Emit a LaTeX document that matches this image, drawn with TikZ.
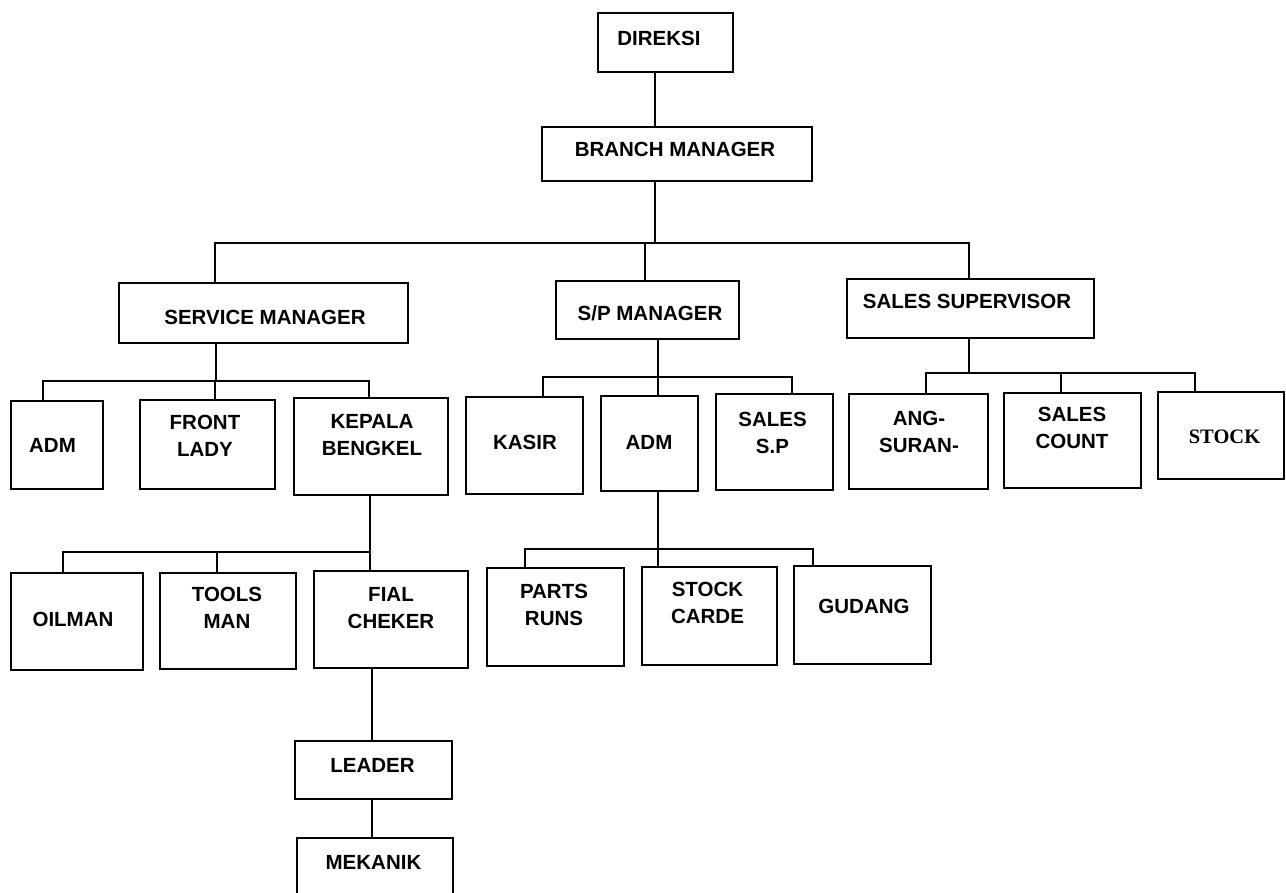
\documentclass[tikz,border=0pt]{standalone}
\usepackage{fontspec}
\setmainfont{Liberation Sans}
\newfontfamily\stockserif{Liberation Serif}
\usetikzlibrary{calc}

% \orgbox{name}{left}{top}{right}{bottom}: an empty framed box
\newcommand\orgbox[5]{%
  \node[box, anchor=north west, minimum width={(#4-#2)*1pt},
        minimum height={(#5-#3)*1pt}] (#1) at (#2,#3) {};}

\begin{document}
\begin{tikzpicture}[x=1pt, y=-1pt,
  box/.style={draw, line width=2.2pt, inner sep=0pt, line join=miter},
  txt/.style={font=\bfseries\fontsize{20.5}{27}\selectfont, align=center,
              text depth=0pt, inner sep=0pt},
  link/.style={draw, line width=2.2pt, line join=miter}]
\useasboundingbox (0,0) rectangle (1286,893);
\clip (0,0) rectangle (1286,893);

% ---- boxes ----
\orgbox{dir}{597}{12}{732}{71}
\orgbox{bm}{541}{126}{811}{180}
\orgbox{sm}{118}{282}{407}{342}
\orgbox{sp}{555}{280}{738}{338}
\orgbox{ss}{846}{278}{1093}{337}
\orgbox{admA}{10}{400}{102}{488}
\orgbox{fl}{139}{399}{274}{488}
\orgbox{kb}{293}{397}{447}{494}
\orgbox{kas}{465}{396}{582}{493}
\orgbox{admB}{600}{395}{697}{490}
\orgbox{ssp}{715}{393}{832}{489}
\orgbox{ang}{848}{393}{987}{488}
\orgbox{sc}{1003}{392}{1140}{487}
\orgbox{st}{1157}{391}{1283}{478}
\orgbox{oil}{10}{572}{142}{669}
\orgbox{tm}{159}{572}{295}{668}
\orgbox{fc}{313}{570}{467}{667}
\orgbox{pr}{486}{567}{623}{665}
\orgbox{scd}{641}{566}{776}{664}
\orgbox{gd}{793}{565}{930}{663}
\orgbox{ld}{294}{740}{451}{798}
\orgbox{mk}{296}{837}{452}{900}

% ---- labels ----
\node[txt] (dir-t)  at (659,38.5)   {DIREKSI};
\node[txt] (bm-t)   at (675,149.5)  {BRANCH MANAGER};
\node[txt] (sm-t)   at (265,317)    {SERVICE MANAGER};
\node[txt] (sp-t)   at (650,313.5)  {S/P MANAGER};
\node[txt] (ss-t)   at (967,301)    {SALES SUPERVISOR};
\node[txt] (admA-t) at (52.5,445.5) {ADM};
\node[txt] (fl-t)   at (205,436)    {FRONT\\LADY};
\node[txt] (kb-t)   at (372,435)    {KEPALA\\BENGKEL};
\node[txt] (kas-t)  at (525,442)    {KASIR};
\node[txt] (admB-t) at (649,442)    {ADM};
\node[txt] (ssp-t)  at (772.5,432.5){SALES\\S.P};
\node[txt] (ang-t)  at (919,431.5)  {ANG-\\SURAN-};
\node[txt] (sc-t)   at (1072,427.5) {SALES\\COUNT};
\node[txt, font=\stockserif\bfseries\fontsize{20.5}{27}\selectfont]
           (st-t)   at (1224.5,437) {STOCK};
\node[txt] (oil-t)  at (73,619.5)   {OILMAN};
\node[txt] (tm-t)   at (227,607.5)  {TOOLS\\MAN};
\node[txt] (fc-t)   at (391,608)    {FIAL\\CHEKER};
\node[txt] (pr-t)   at (554,605)    {PARTS\\RUNS};
\node[txt] (scd-t)  at (707.5,603)  {STOCK\\CARDE};
\node[txt] (gd-t)   at (864,606)    {GUDANG};
\node[txt] (ld-t)   at (372.5,765)  {LEADER};
\node[txt] (mk-t)   at (373.5,862)  {MEKANIK};

% ---- connectors: top levels ----
\draw[link] (dir.south -| 655,0) -- (bm.north -| 655,0);
\draw[link] (bm.south -| 655,0) -- (655,243);
\draw[link] (sm.north -| 215,0) -- (215,243) -- (969,243) -- (ss.north -| 969,0);
\draw[link] (645,243) -- (sp.north -| 645,0);

% ---- service branch ----
\draw[link] (sm.south -| 216,0) -- (216,381);
\draw[link] (admA.north -| 43,0) -- (43,381) -- (369,381) -- (kb.north -| 369,0);
\draw[link] (215,381) -- (fl.north -| 215,0);

% ---- spare-part branch ----
\draw[link] (sp.south -| 658,0) -- (admB.north -| 658,0);
\draw[link] (kas.north -| 543,0) -- (543,377) -- (792,377) -- (ssp.north -| 792,0);

% ---- sales branch ----
\draw[link] (ss.south -| 969,0) -- (969,373);
\draw[link] (ang.north -| 926,0) -- (926,373) -- (1195,373) -- (st.north -| 1195,0);
\draw[link] (1061,373) -- (sc.north -| 1061,0);

% ---- workshop staff ----
\draw[link] (kb.south -| 370,0) -- (fc.north -| 370,0);
\draw[link] (oil.north -| 63,0) -- (63,552) -- (370,552);
\draw[link] (217,552) -- (tm.north -| 217,0);

% ---- parts staff ----
\draw[link] (admB.south -| 658,0) -- (scd.north -| 658,0);
\draw[link] (pr.north -| 525,0) -- (525,549) -- (813,549) -- (gd.north -| 813,0);

% ---- final checker chain ----
\draw[link] (fc.south -| 372,0) -- (ld.north -| 372,0);
\draw[link] (ld.south -| 372,0) -- (mk.north -| 372,0);
\end{tikzpicture}
\end{document}
